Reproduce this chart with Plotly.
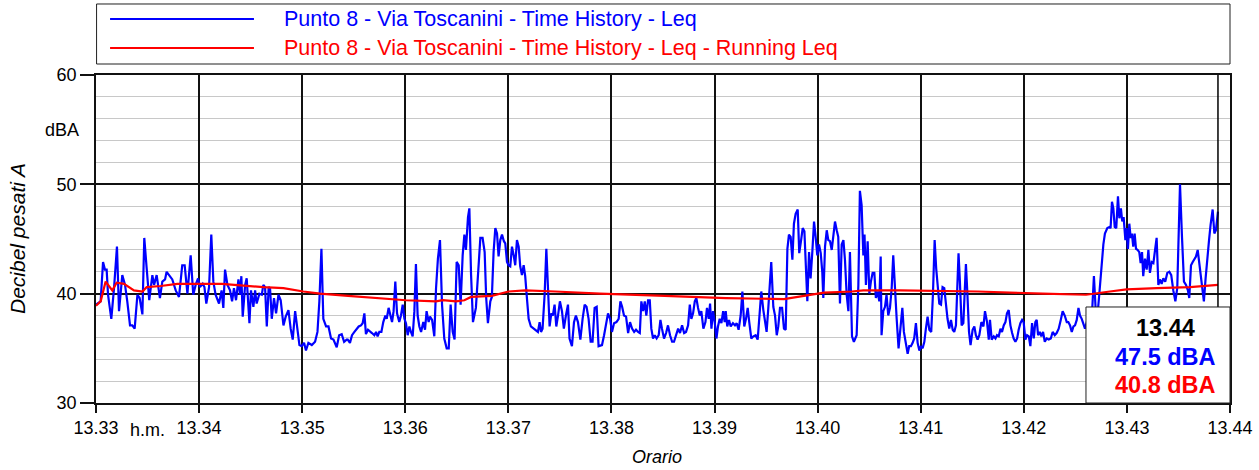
import plotly.graph_objects as go

# ---------------- data ----------------
series_names = [
    "Punto 8 - Via Toscanini - Time History - Leq",
    "Punto 8 - Via Toscanini - Time History - Leq - Running Leq",
]
x_tick_labels = ["13.33", "13.34", "13.35", "13.36", "13.37", "13.38",
                 "13.39", "13.40", "13.41", "13.42", "13.43", "13.44"]
x_tick_seconds = [0, 60, 120, 180, 240, 300, 360, 420, 480, 540, 600, 660]
y_tick_values = [30, 40, 50, 60]
cursor_label = "13.44"

# Leq time history: seconds after 13.33.00 and level in dB(A)
leq_t = [
    0, 2.7, 4.1, 5.2, 6.2, 7.0, 8.9, 10.5, 12.2, 13.4, 15.3, 16.9, 18.2, 19.8, 21.1, 22.5, 24.1, 25.4, 27.0, 28.1,
    29.5, 31.0, 32.8, 33.8, 35.3, 36.3, 37.2, 38.6, 40.2, 41.1, 42.5, 44.4, 46.4, 48.3, 50.2, 51.6, 53.2, 55.1, 56.6,
    58.0, 59.4, 60.5, 62.1, 63.1, 64.2, 65.8, 67.1, 68.3, 69.6, 71.6, 73.1,
    74.1, 75.1, 76.5, 78.0, 79.2, 80.3, 81.5, 82.9, 83.8, 84.6, 85.4, 86.8, 87.7, 89.3, 90.2, 91.6, 92.6, 93.5, 95.1,
    96.5, 97.4, 98.4, 99.4, 100.5, 101.3, 102.3, 103.6, 104.8, 106.2, 107.5, 109.1, 110.4, 112.0, 113.3, 114.5,
    115.9, 117.2, 118.4, 119.7, 121.1, 122.2, 123.6, 125.6, 127.5, 128.9, 130.0, 131.2, 132.3, 133.9, 135.3,
    136.8, 138.2, 140.1, 141.5, 143.0, 144.4, 145.9,
    146.5, 147.8, 149.0, 150.4, 151.7, 152.9, 154.2, 155.2, 156.2, 157.1, 158.3, 159.5, 160.6, 162.0, 163.0,
    163.9, 164.9, 166.1, 167.2, 168.4, 169.2, 170.3, 171.3, 172.3, 173.2, 174.2, 175.2, 176.5, 177.5, 178.5,
    179.5, 180.4, 181.4, 182.4, 183.3, 184.3, 185.3, 186.2, 187.2, 188.2, 189.2, 190.5, 191.5, 192.4, 193.6,
    194.4, 195.6, 196.9, 197.9, 199.0, 200.2, 201.4, 202.7, 204.1, 205.3, 206.4, 207.6, 208.7, 209.9, 211.1,
    212.2, 213.4, 214.4, 215.3, 216.5, 217.3, 218.3, 219.4,
    221.1, 222.3, 223.7, 225.0, 226.2, 227.1, 228.1, 229.5, 230.4, 231.4, 232.4, 233.4, 234.3, 235.3, 236.3,
    237.4, 238.2, 239.2, 240.1, 241.1, 242.1, 243.1, 244.0, 245.0, 246.0, 246.9, 247.9, 248.9, 249.8, 250.8,
    251.8, 253.1, 254.7, 256.0, 257.2, 258.2, 259.0, 259.9, 261.1, 262.1, 263.0, 264.0, 265.0, 265.9, 266.9,
    267.9, 268.9, 270.0, 271.2, 272.3, 273.5, 274.7, 275.6, 277.0, 278.2, 279.3, 280.5, 281.9, 283.2, 284.4,
    285.5, 286.7, 287.9, 289.0, 290.2, 291.4, 292.5,
    294.5, 295.7, 296.9, 298.0, 299.2, 300.3, 301.5, 302.9, 304.2, 305.2, 306.2, 307.3, 308.5, 309.7, 310.8,
    312.0, 313.2, 314.3, 315.5, 316.5, 317.4, 318.4, 319.4, 320.3, 321.3, 322.3, 323.2, 324.2, 325.2, 326.3,
    327.5, 328.5, 329.4, 330.6, 331.8, 332.9, 334.1, 335.3, 336.4, 337.6, 338.8, 339.9, 341.1, 342.3, 343.4,
    344.6, 345.6, 346.5, 347.5, 348.5, 349.4, 350.4, 351.4, 352.3, 353.5, 354.7, 355.6, 356.6, 357.4, 358.2,
    359.1, 360.1, 361.1, 362.0, 363.0, 364.0, 365.0, 365.9,
    366.5, 367.4, 368.4, 369.4, 370.7, 371.9, 372.9, 374.0, 375.2, 376.2, 377.3, 378.3, 379.3, 380.2, 381.4,
    382.6, 383.9, 385.1, 386.1, 387.2, 388.4, 389.6, 390.3, 391.3, 392.3, 393.0, 394.2, 395.2, 396.2, 397.1,
    398.1, 399.3, 400.4, 401.4, 402.4, 403.3, 404.3, 405.3, 406.2, 407.2, 408.4, 409.3, 410.3, 411.3, 412.3,
    413.2, 414.0, 415.0, 415.9, 416.9, 417.9, 418.9, 419.8, 420.8, 421.8, 422.7, 423.3, 424.3, 425.3, 426.2,
    427.2, 428.2, 429.1, 430.1, 431.1, 432.0, 433.0, 434.0, 435.0, 435.9, 436.9, 437.9, 438.8,
    439.4, 440.0, 441.1, 442.7, 443.7, 444.6, 445.6, 446.6, 447.3, 448.1, 449.1, 450.1, 451.0, 452.0, 453.0,
    453.9, 454.9, 455.9, 456.7, 457.2, 458.2, 459.2, 460.1, 461.1, 462.1, 463.1, 464.0, 465.0, 466.0, 467.1,
    468.3, 469.3, 470.2, 471.4, 472.4, 473.3, 474.3, 475.3, 476.2, 477.2, 478.2, 479.2, 480.1, 481.1, 482.1,
    483.0, 484.0, 485.0, 486.1, 487.1, 488.1, 489.0, 490.0, 490.8, 491.8, 492.7, 493.7, 494.7, 495.6, 496.6,
    497.6, 498.6, 499.5, 500.5, 501.3, 502.0, 502.8, 503.8, 504.8, 505.7, 506.3, 507.1, 508.1, 509.0, 510.2,
    511.2, 512.1, 513.1,
    514.1, 515.3, 516.5, 517.4, 518.6, 519.6, 520.3, 521.3, 522.5, 523.5, 524.4, 525.4, 526.4, 527.3, 528.3,
    529.3, 530.2, 531.2, 532.2, 533.2, 534.1, 535.1, 536.1, 537.0, 538.0, 539.0, 539.9, 540.9, 541.9, 542.9,
    543.8, 544.8, 545.8, 546.7, 547.5, 548.3, 549.3, 550.2, 551.2, 552.2, 553.3, 554.5, 555.7, 556.8, 558.0,
    559.1, 560.3, 561.5, 562.6, 563.8, 565.0, 565.9, 566.9, 567.9, 568.9, 569.8, 570.8, 571.8, 572.7, 573.7,
    574.7, 575.6, 576.8, 577.8,
    579.5, 580.8, 581.8, 582.8, 583.9, 584.9, 586.3, 587.2, 588.6, 589.8, 590.5, 591.3, 592.1, 592.9, 593.8,
    594.8, 595.6, 596.5, 597.3, 598.1, 599.1, 599.8, 600.6, 601.4, 602.2, 602.9, 603.7, 604.5, 605.3, 606.2,
    607.2, 608.0, 608.8, 609.5, 610.5, 611.5, 612.5, 613.4, 614.4, 615.4, 616.3, 617.3, 618.3, 619.2, 620.2,
    621.2, 622.3, 623.5, 624.7, 625.8, 627.0, 628.2, 629.3, 630.9, 632.0, 633.2, 634.4, 635.5, 636.3, 637.3,
    638.3, 639.2, 640.2, 641.2, 642.1, 643.1, 644.1, 644.8, 645.8, 646.8, 647.8, 648.7, 649.9, 650.9, 651.8,
    653.0,
]
leq_db = [
    39.0, 39.3, 42.9, 42.2, 42.2, 39.9, 37.7, 40.5, 44.3, 38.4, 41.7, 40.8, 39.3, 37.1, 37.1, 36.8, 39.9, 39.6, 38.1, 45.1,
    42.3, 39.4, 41.7, 40.8, 41.7, 40.5, 39.6, 41.1, 41.3, 42.0, 41.7, 41.3, 40.3, 39.7, 42.6, 42.6, 40.0, 43.5, 39.9,
    40.8, 41.4, 40.6, 40.9, 40.6, 39.1, 40.6, 45.4, 41.1, 39.9, 39.1, 40.3,
    38.7, 42.2, 40.8, 40.3, 39.3, 40.5, 39.4, 41.3, 39.9, 41.6, 37.9, 40.8, 41.4, 37.3, 40.3, 38.8, 40.3, 39.1, 40.0,
    39.9, 40.8, 40.6, 37.0, 40.6, 40.5, 37.7, 39.6, 38.2, 39.9, 39.4, 37.1, 37.9, 38.5, 36.8, 35.8,
    38.4, 36.5, 35.3, 35.2, 35.5, 34.8, 35.5, 35.3, 35.6, 36.5, 39.3, 44.1, 37.7, 37.0, 37.0,
    35.9, 35.8, 35.1, 36.2, 36.3, 35.6, 35.8,
    35.8, 35.5, 36.2, 36.5, 36.8, 37.0, 37.1, 37.3, 38.2, 36.3, 36.7, 36.5, 36.4, 36.2, 36.5,
    36.1, 36.5, 36.5, 37.4, 38.0, 37.7, 38.7, 37.9, 37.4, 38.4, 41.1, 38.2, 37.4, 38.0, 39.0,
    37.7, 37.3, 36.2, 37.0, 36.5, 36.1, 38.4, 42.7, 38.0, 37.0, 36.5, 37.4, 36.7, 38.4, 37.4,
    37.9, 37.6, 36.1, 40.5, 43.2, 44.9, 39.0, 35.9, 35.0, 35.0, 39.0, 36.5, 35.8, 42.9, 42.6,
    39.0, 43.5, 45.4, 44.0, 47.0, 47.8, 41.7, 37.4,
    38.7, 41.7, 45.1, 45.1, 43.8, 39.6, 37.3, 39.3, 39.7, 43.8, 46.0, 45.5, 43.4, 44.9, 45.4,
    44.8, 44.6, 42.9, 42.6, 42.5, 44.3, 43.5, 42.6, 44.9, 44.3, 42.5, 41.7, 42.6, 41.6, 39.6,
    37.7, 37.0, 36.8, 36.7, 36.5, 37.4, 36.5, 36.8, 39.9, 44.1, 41.1, 37.0, 38.2, 38.0, 39.0,
    37.0, 38.0, 39.3, 38.4, 36.8, 38.0, 39.0, 35.9, 35.2, 37.4, 38.0, 37.4, 35.8, 37.7, 39.0,
    38.8, 37.7, 35.6, 35.6, 38.7, 38.8, 35.2,
    35.3, 36.2, 37.1, 38.2, 37.7, 36.5, 37.3, 37.4, 37.7, 39.3, 38.8, 38.0, 37.9, 36.4, 37.4,
    36.8, 36.5, 36.7, 36.5, 36.4, 39.3, 38.4, 39.3, 38.0, 39.4, 39.4, 36.8, 35.9, 36.2, 35.9,
    36.2, 37.6, 36.8, 35.9, 36.4, 37.1, 36.2, 35.6, 35.6, 36.2, 36.8, 36.4, 37.1, 36.4, 36.5,
    37.1, 39.0, 37.7, 38.2, 39.3, 39.6, 38.7, 38.0, 38.4, 36.8, 37.4, 38.7, 37.7, 39.1, 36.8,
    38.4, 37.4, 35.9, 37.0, 37.7, 37.3, 38.4, 37.4,
    38.4, 37.0, 37.6, 37.0, 37.3, 37.1, 37.3, 36.7, 38.0, 40.2, 37.0, 37.7, 38.7, 37.4, 35.9,
    36.1, 36.2, 35.8, 37.7, 40.2, 38.5, 37.4, 36.5, 38.7, 40.8, 42.9, 38.8, 38.0, 36.2, 37.0,
    38.7, 38.7, 36.8, 36.7, 44.1, 45.4, 45.2, 43.1, 46.4, 47.3, 47.7, 43.7, 44.8, 46.0, 45.7,
    42.9, 39.3, 43.8, 41.4, 43.8, 46.6, 45.1, 43.5, 44.5, 43.7, 42.0, 39.6, 44.3, 45.8, 44.9,
    44.8, 44.0, 45.1, 46.6, 45.8, 45.2, 39.1, 44.5, 44.9, 43.1, 39.9, 38.4, 43.8,
    40.2, 36.1, 35.6, 36.2, 40.8, 49.4, 48.1, 43.5, 45.4, 40.8, 44.8, 40.0, 41.1, 41.9, 41.9,
    39.6, 40.2, 39.3, 43.4, 36.2, 38.4, 38.8, 39.9, 38.0, 38.7, 40.5, 43.5, 40.2, 37.7, 35.0,
    37.1, 38.7, 36.5, 35.5, 34.5, 35.2, 35.2, 35.5, 35.9, 37.3, 35.5, 34.8, 35.2, 35.0, 35.6,
    36.8, 37.9, 36.7, 36.5, 39.9, 44.9, 42.3, 40.5, 39.1, 39.0, 40.6, 40.5, 38.7, 37.7, 36.8,
    37.6, 36.7, 36.5, 37.1, 40.2, 43.7, 41.1, 37.1, 37.3, 41.1, 42.7, 40.2, 36.5, 35.3, 36.7,
    37.0, 36.2, 35.8,
    36.2, 37.4, 37.0, 38.4, 37.4, 35.8, 37.6, 35.8, 36.1, 35.9, 36.2, 36.1, 36.8, 36.5, 37.1,
    37.4, 38.2, 38.5, 37.1, 36.4, 35.9, 35.6, 35.9, 36.7, 37.3, 37.6, 37.4, 35.8, 36.2, 36.1,
    35.2, 37.3, 35.9, 37.4, 37.6, 36.2, 36.5, 36.1, 36.5, 35.6, 35.9, 35.8, 35.9, 36.5, 36.2,
    36.4, 36.8, 37.6, 38.4, 38.0, 37.4, 37.4, 37.1, 36.5, 37.0, 37.1, 37.6, 38.7, 38.0, 37.7,
    37.3, 36.8, 37.5, 38.2,
    37.6, 41.6, 38.6, 37.9, 39.9, 42.0, 44.5, 45.5, 46.0, 46.1, 46.0, 48.4, 47.8, 46.1, 46.0,
    48.9, 46.9, 47.8, 46.6, 47.0, 44.9, 46.0, 44.1, 46.4, 45.1, 45.5, 44.3, 45.5, 44.1, 44.0,
    43.8, 42.8, 43.8, 41.6, 43.2, 42.2, 44.0, 41.9, 42.9, 42.8, 43.8, 45.1, 40.8, 41.3, 40.9,
    41.4, 41.1, 41.9, 42.0, 41.7, 40.3, 39.3, 40.5, 50.0, 45.4, 41.1, 40.8, 40.3, 39.6, 42.6,
    42.9, 43.1, 43.4, 44.0, 42.8, 41.4, 40.5, 39.3, 41.4, 43.5, 44.9, 46.3, 47.7, 45.5, 45.8,
    47.5,
]

# Running Leq: seconds and level in dB(A)
run_t = [0, 2.7, 5.6, 9.5, 12.0, 16.3, 22.1, 27.0, 29.5, 37.6, 47.3, 57.0, 66.7, 73.3, 97.4, 109.1,
         120.7, 130.4, 146.7, 164.9, 180.4, 197.9, 201.8, 209.5, 214.4, 218.3, 230.4, 240.1, 249.8,
         267.3, 293.3, 331.0, 366.7, 400.4, 404.3, 414.0, 423.7, 440.0, 446.6, 467.9, 513.3, 551.0,
         576.2, 590.1, 599.8, 617.3, 636.7, 653.0]
run_db = [38.9, 39.3, 41.1, 40.3, 41.0, 40.9, 40.3, 40.2, 40.6, 40.7, 40.9, 40.9, 40.9, 40.9, 40.6, 40.5,
          40.2, 40.0, 39.8, 39.6, 39.4, 39.3, 39.4, 39.3, 39.4, 39.7, 39.8, 40.2, 40.3,
          40.2, 40.0, 39.8, 39.6, 39.5, 39.6, 39.9, 40.1, 40.2, 40.3, 40.3, 40.2, 40.0,
          39.9, 40.2, 40.4, 40.5, 40.6, 40.8]

n = min(len(leq_t), len(leq_db))
leq_t, leq_db = leq_t[:n], leq_db[:n]

# ---------------- figure ----------------
FONT = "Arial, 'Liberation Sans', Arimo, sans-serif"
BLUE = "#0000FF"
RED = "#FF0000"

fig = go.Figure()
fig.add_trace(go.Scatter(x=leq_t, y=leq_db, mode="lines", name=series_names[0],
                         line=dict(color=BLUE, width=2.2), showlegend=False, hoverinfo="skip"))
fig.add_trace(go.Scatter(x=run_t, y=run_db, mode="lines", name=series_names[1],
                         line=dict(color=RED, width=2.2), showlegend=False, hoverinfo="skip"))

shapes = []
# cursor at the last sample
shapes.append(dict(type="line", xref="x", yref="y", x0=leq_t[-1], x1=leq_t[-1], y0=30, y1=60,
                   line=dict(color="black", width=1.5), layer="above"))
# readout box
shapes.append(dict(type="rect", xref="paper", yref="paper", x0=0.873, x1=1.0, y0=0.0, y1=0.2927,
                   fillcolor="white", line=dict(color="#202020", width=1), layer="above"))
# legend box and samples
shapes.append(dict(type="rect", xref="paper", yref="paper", x0=0.0005, x1=1.0, y0=1.0335, y1=1.2165,
                   fillcolor="white", line=dict(color="#202020", width=1), layer="above"))
legend_rows_y = [1.1707, 1.0823]
for yy, col in zip(legend_rows_y, [BLUE, RED]):
    shapes.append(dict(type="line", xref="paper", yref="paper", x0=0.0124, x1=0.1393, y0=yy, y1=yy,
                       line=dict(color=col, width=2), layer="above"))

annotations = []
for yy, col, name in zip(legend_rows_y, [BLUE, RED], series_names):
    annotations.append(dict(xref="paper", yref="paper", x=0.1640, y=yy, xanchor="left", yanchor="middle",
                            text=name, showarrow=False, font=dict(family=FONT, size=21.5, color=col)))
# readout text
readouts = [(cursor_label, "black", 0.2287),
            (f"{leq_db[-1]:.1f} dBA", BLUE, 0.1402),
            (f"{run_db[-1]:.1f} dBA", RED, 0.0549)]
for txt, col, yy in readouts:
    annotations.append(dict(xref="paper", yref="paper", x=0.9427, y=yy, xanchor="center", yanchor="middle",
                            text=f"<b>{txt}</b>", showarrow=False, font=dict(family=FONT, size=23.5, color=col)))
# unit label and axis titles
annotations.append(dict(xref="paper", yref="y", x=0, y=55, xanchor="right", yanchor="middle", xshift=-15,
                        text="dBA", showarrow=False, font=dict(family=FONT, size=18, color="black")))
annotations.append(dict(xref="x", yref="paper", x=30, y=0, xanchor="center", yanchor="middle", yshift=-27,
                        text="h.m.", showarrow=False, font=dict(family=FONT, size=18, color="black")))
annotations.append(dict(xref="paper", yref="paper", x=0.4947, y=0, xanchor="center", yanchor="middle",
                        yshift=-54, text="<i>Orario</i>", showarrow=False,
                        font=dict(family=FONT, size=18, color="black")))
annotations.append(dict(xref="paper", yref="paper", x=0, y=0.5, xanchor="center", yanchor="middle",
                        xshift=-79, textangle=-90, text="<i>Decibel pesati A</i>", showarrow=False,
                        font=dict(family=FONT, size=21, color="black")))

fig.update_layout(
    template="none",
    width=1259, height=470, autosize=False,
    margin=dict(l=96, r=29, t=75, b=67, pad=0, autoexpand=False),
    paper_bgcolor="white", plot_bgcolor="white",
    font=dict(family=FONT, size=18, color="black"),
    showlegend=False,
    shapes=shapes, annotations=annotations,
    xaxis=dict(range=[0, 660], tickmode="array", tickvals=x_tick_seconds, ticktext=x_tick_labels,
               automargin=False,
               showgrid=True, gridcolor="#111111", gridwidth=1.5,
               ticks="outside", ticklen=8, tickwidth=1.5, tickcolor="#111111",
               tickfont=dict(family=FONT, size=18, color="black"),
               showline=True, linecolor="#111111", linewidth=1.5, mirror=True, zeroline=False),
    yaxis=dict(range=[30, 60], tickmode="array", tickvals=y_tick_values,
               automargin=False,
               showgrid=True, gridcolor="#111111", gridwidth=1.5,
               minor=dict(dtick=2, tick0=30, showgrid=True, gridcolor="#c8c8c8", gridwidth=1, ticks=""),
               ticks="outside", ticklen=14, tickwidth=1.5, tickcolor="#111111",
               tickfont=dict(family=FONT, size=18, color="black"),
               showline=True, linecolor="#111111", linewidth=1.5, mirror=True, zeroline=False),
)

fig.write_html(
    "out.html",
    config={"displayModeBar": False, "responsive": False},
    post_script=("document.documentElement.style.overflow='hidden';"
                 "document.body.style.margin='0px';"
                 "document.body.style.overflow='hidden';"),
)
